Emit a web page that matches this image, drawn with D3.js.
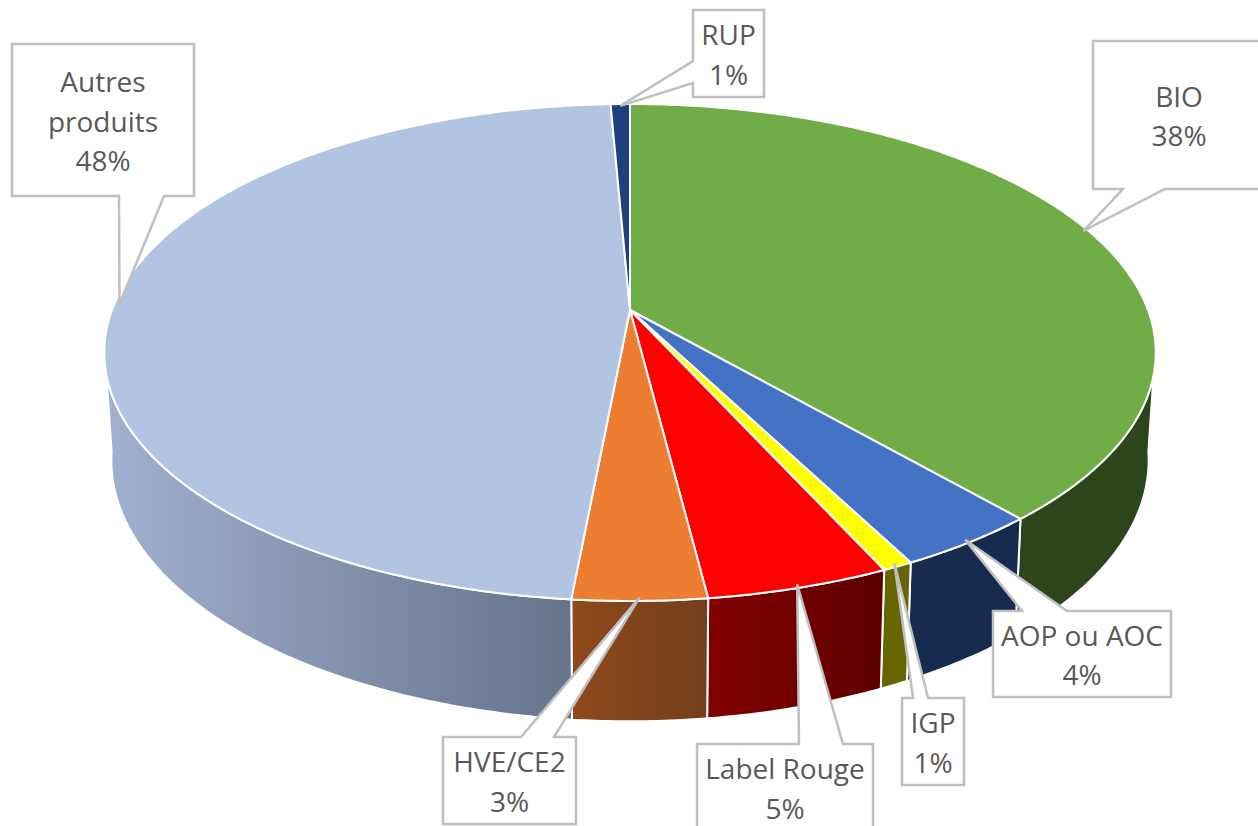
<!DOCTYPE html>
<html>
<head>
<meta charset="utf-8">
<script src="https://cdn.jsdelivr.net/npm/d3@7"></script>
<style>
  body { margin: 0; background: #fff; }
  svg { display: block; }
  text { font-family: "Open Sans", sans-serif; font-size: 28px; fill: #595959; text-anchor: middle; }
</style>
</head>
<body>
<div id="viz"></div>
<script>
const width = 1258;
const height = 826;

// data
const categories = ['BIO', 'AOP ou AOC', 'IGP', 'Label Rouge', 'HVE/CE2', 'Autres\nproduits', 'RUP'];
const values = [38.6, 3.8, 0.8, 4.8, 3.5, 47.8, 0.7];
const percentLabels = ['38%', '4%', '1%', '5%', '3%', '48%', '1%'];

// styles, same order as the categories
const topColors = ['#70ad47', '#4472c4', '#ffff00', '#ff0000', '#ed7d31', '#b1c5e3', '#1f3f7e'];
const wallColors = [
  ['#2d451b', '#2d451b'], ['#172b4f', '#172b4f'], ['#666600', '#666600'], ['#820000', '#5e0000'],
  ['#8e4a1c', '#733f1b'], ['#a0b1cf', '#65738b'], ['#172b4f', '#172b4f']
];

// callout boxes: x, y, w, h, then where the pointer leaves the box
const boxes = [
  {x: 1093, y: 41, w: 172, h: 148, side: 'bottom', a: 1123, b: 1165},
  {x: 993, y: 611, w: 178, h: 86, side: 'top', a: 1022, b: 1067},
  {x: 902, y: 698, w: 62, h: 87, side: 'top', a: 913, b: 928},
  {x: 697, y: 744, w: 176, h: 87, side: 'top', a: 799, b: 843},
  {x: 443, y: 737, w: 133, h: 87, side: 'top', a: 521, b: 554},
  {x: 12, y: 44, w: 182, h: 152, side: 'bottom', a: 119, b: 164},
  {x: 693, y: 10, w: 71, h: 87, side: 'left', a: 61, b: 83}
];

// perspective of the top and bottom discs
const cx = 630;
const p = 0.171;
const topDisc = {y0: 310, k: 241.2, s: 518};
const bottomDisc = {y0: 415.6, k: 253.4, s: 511};
const lineHeight = 39.5;
const tipRadius = 0.99;

// silhouette angles of the side wall (radians from 12 o'clock)
const wallStart = {top: 105 * Math.PI / 180, bottom: 98 * Math.PI / 180};
const wallEnd = {top: 255 * Math.PI / 180, bottom: 262 * Math.PI / 180};

const project = (angle, disc, r = 1) => {
  const u = r * Math.sin(angle);
  const v = -r * Math.cos(angle);
  const w = 1 - p * v;
  return [cx + disc.s * u / w, disc.y0 + disc.k * v / w];
};

const arcPoints = (a0, a1, disc) => {
  const n = Math.max(2, Math.ceil(Math.abs(a1 - a0) / 0.01));
  return d3.range(n + 1).map(i => project(a0 + (a1 - a0) * i / n, disc));
};

const slices = d3.pie().sort(null).value(d => d)(values);
const line = d3.line();

const svg = d3.select('#viz')
  .append('svg')
    .attr('width', width)
    .attr('height', height)
    .attr('viewBox', [0, 0, width, height]);

// Side walls
const defs = svg.append('defs');
const walls = svg.append('g').attr('class', 'walls');

slices.forEach((d, i) => {
  const t0 = Math.max(d.startAngle, wallStart.top);
  const t1 = Math.min(d.endAngle, wallEnd.top);
  const b0 = Math.max(d.startAngle, wallStart.bottom);
  const b1 = Math.min(d.endAngle, wallEnd.bottom);
  if (t1 <= t0) return;

  const upper = arcPoints(t0, t1, topDisc);
  const lower = arcPoints(b0, b1, bottomDisc).reverse();
  const xs = upper.concat(lower).map(o => o[0]);

  const grad = defs.append('linearGradient')
    .attr('id', `wall-${i}`)
    .attr('gradientUnits', 'userSpaceOnUse')
    .attr('x1', d3.min(xs)).attr('x2', d3.max(xs))
    .attr('y1', 0).attr('y2', 0);
  grad.append('stop').attr('offset', 0).attr('stop-color', wallColors[i][0]);
  grad.append('stop').attr('offset', 1).attr('stop-color', wallColors[i][1]);

  walls.append('path')
    .attr('d', line(upper.concat(lower)) + 'Z')
    .attr('fill', `url(#wall-${i})`)
    .attr('stroke', '#fff')
    .attr('stroke-width', 2)
    .attr('stroke-linejoin', 'round');
});

// Top of the pie
svg.append('g')
    .attr('class', 'tops')
  .selectAll('path')
  .data(slices)
  .join('path')
    .attr('d', d => line([[cx, topDisc.y0]].concat(arcPoints(d.startAngle, d.endAngle, topDisc))) + 'Z')
    .attr('fill', (d, i) => topColors[i])
    .attr('stroke', '#fff')
    .attr('stroke-width', 2)
    .attr('stroke-linejoin', 'round');

// Callouts: the pointer tip sits just inside the edge, at the middle of the slice
const calloutPath = (d, b) => {
  const tip = project((d.startAngle + d.endAngle) / 2, topDisc, tipRadius);
  const r = b.x + b.w;
  const y2 = b.y + b.h;
  if (b.side === 'top') {
    return line([[b.x, b.y], [b.a, b.y], tip, [b.b, b.y], [r, b.y], [r, y2], [b.x, y2]]) + 'Z';
  }
  if (b.side === 'bottom') {
    return line([[b.x, b.y], [r, b.y], [r, y2], [b.b, y2], tip, [b.a, y2], [b.x, y2]]) + 'Z';
  }
  return line([[b.x, b.y], [r, b.y], [r, y2], [b.x, y2], [b.x, b.b], tip, [b.x, b.a]]) + 'Z';
};

const callouts = svg.append('g')
    .attr('class', 'callouts')
  .selectAll('g')
  .data(slices)
  .join('g');

callouts.append('path')
    .attr('d', (d, i) => calloutPath(d, boxes[i]))
    .attr('fill', '#fff')
    .attr('stroke', '#bfbfbf')
    .attr('stroke-width', 2.5);

callouts.each(function(d, i) {
  const b = boxes[i];
  const lines = categories[i].split('\n').concat(percentLabels[i]);
  const firstY = b.y + b.h / 2 + 1.5 - (lines.length - 1) * lineHeight / 2 + 10;
  d3.select(this).selectAll('text')
    .data(lines)
    .join('text')
      .attr('x', b.x + b.w / 2)
      .attr('y', (t, j) => firstY + j * lineHeight)
      .text(t => t);
});
</script>
</body>
</html>
